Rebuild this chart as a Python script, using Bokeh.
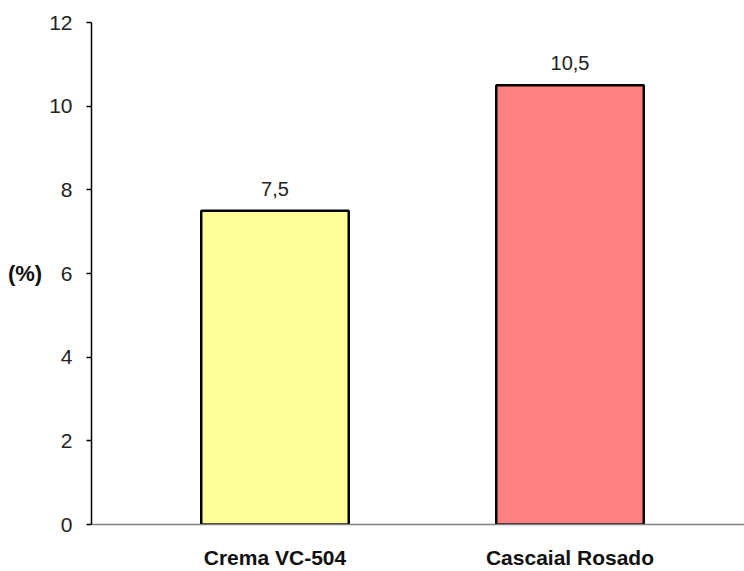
from bokeh.plotting import figure
from bokeh.models import ColumnDataSource, Range1d, FixedTicker, LabelSet
from bokeh.core.properties import value
from bokeh.embed import file_html
from bokeh.resources import INLINE

# Data
categories = ["Crema VC-504", "Cascaial Rosado"]
values = [7.5, 10.5]
colors = ["#FFFF99", "#FF8080"]
y_ticks = [0, 2, 4, 6, 8, 10, 12]

positions = list(range(1, len(categories) + 1))
labels = [f"{v:.1f}".replace(".", ",") for v in values]

source = ColumnDataSource(dict(x=positions, top=values, color=colors, label=labels))

FONT = "Liberation Sans"

p = figure(
    width=744, height=571,
    output_backend="svg", toolbar_location=None,
    x_range=Range1d(0.378, 2.5915), y_range=Range1d(0, 12),
    min_border_left=91, min_border_right=0, min_border_top=22, min_border_bottom=47,
)
p.background_fill_color = "white"
p.border_fill_color = "white"
p.outline_line_color = None
p.xgrid.grid_line_color = None
p.ygrid.grid_line_color = None

p.vbar(x="x", top="top", bottom=0, width=0.5, source=source,
       fill_color="color", line_color="black", line_width=2.5)

# value labels above the bars
p.add_layout(LabelSet(x="x", y="top", text="label", source=source,
                      text_align="center", text_baseline="alphabetic",
                      y_offset=15, text_font=value(FONT), text_font_size="20px",
                      text_color="#222222"))

# y axis
yax = p.yaxis[0]
yax.ticker = FixedTicker(ticks=y_ticks)
yax.major_tick_in = 0
yax.major_tick_out = 5
yax.minor_tick_line_color = None
yax.axis_line_color = "black"
yax.axis_line_width = 1.5
yax.major_tick_line_width = 1.5
yax.major_label_standoff = 14
yax.major_label_text_font = FONT
yax.major_label_text_font_size = "21px"
yax.major_label_text_color = "#222222"
yax.axis_label = "(%)"
yax.axis_label_orientation = "horizontal"
yax.axis_label_standoff = 4
yax.axis_label_text_font = FONT
yax.axis_label_text_font_size = "22px"
yax.axis_label_text_font_style = "bold"
yax.axis_label_text_color = "#111111"

# x axis with the category names
xax = p.xaxis[0]
xax.ticker = FixedTicker(ticks=positions)
xax.major_label_overrides = {pos: cat for pos, cat in zip(positions, categories)}
xax.major_tick_in = 0
xax.major_tick_out = 0
xax.major_tick_line_color = None
xax.minor_tick_line_color = None
xax.axis_line_color = "#808080"
xax.axis_line_width = 1.5
xax.major_label_standoff = 21
xax.major_label_text_line_height = 0.6
xax.major_label_text_font = FONT
xax.major_label_text_font_size = "21px"
xax.major_label_text_font_style = "bold"
xax.major_label_text_color = "#111111"

open("out.html", "w").write(file_html(p, INLINE))
